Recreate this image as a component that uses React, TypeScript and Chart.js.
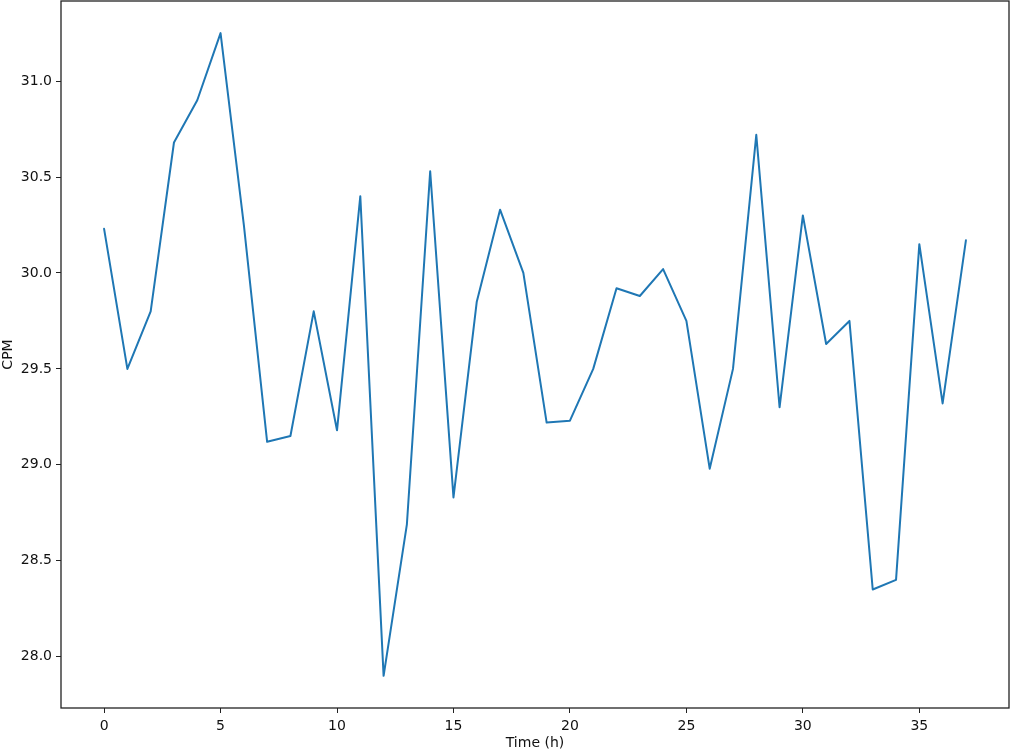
import React, { useEffect, useRef } from "react";
import { Chart, registerables } from "chart.js";

Chart.register(...registerables);

const hours: number[] = [
  0, 1, 2, 3, 4, 5, 6, 7, 8, 9, 10, 11, 12, 13, 14, 15, 16, 17, 18, 19,
  20, 21, 22, 23, 24, 25, 26, 27, 28, 29, 30, 31, 32, 33, 34, 35, 36, 37,
];
const cpm: number[] = [
  30.23, 29.5, 29.8, 30.68, 30.9, 31.25, 30.25, 29.12, 29.15, 29.8,
  29.18, 30.4, 27.9, 28.69, 30.53, 28.83, 29.85, 30.33, 30.0, 29.22,
  29.23, 29.5, 29.92, 29.88, 30.02, 29.75, 28.98, 29.5, 30.72, 29.3,
  30.3, 29.63, 29.75, 28.35, 28.4, 30.15, 29.32, 30.17,
];
const xTicks: number[] = [0, 5, 10, 15, 20, 25, 30, 35];
const yTicks: number[] = [28.0, 28.5, 29.0, 29.5, 30.0, 30.5, 31.0];

const frame = {
  id: "frame",
  afterDraw(chart: any) {
    const { ctx, chartArea: a } = chart;
    ctx.save();
    ctx.strokeStyle = "#222";
    ctx.lineWidth = 1.3;
    ctx.strokeRect(a.left, a.top, a.right - a.left, a.bottom - a.top);
    ctx.restore();
  },
};

export default function App() {
  const ref = useRef<HTMLCanvasElement | null>(null);
  useEffect(() => {
    if (!ref.current) return;
    const font = { family: "DejaVu Sans", size: 14 };
    const chart = new Chart(ref.current, {
      type: "line",
      data: {
        datasets: [
          {
            data: hours.map((h, i) => ({ x: h, y: cpm[i] })),
            borderColor: "#1f77b4",
            borderWidth: 2,
            borderJoinStyle: "round",
            borderCapStyle: "round",
            pointRadius: 0,
            tension: 0,
            fill: false,
          },
        ],
      },
      options: {
        animation: false,
        responsive: false,
        maintainAspectRatio: false,
        layout: { padding: { top: 1, right: 2, left: 0, bottom: 0 } },
        plugins: { legend: { display: false }, tooltip: { enabled: false } },
        scales: {
          x: {
            type: "linear",
            min: -1.85,
            max: 38.85,
            afterBuildTicks: (s: any) => {
              s.ticks = xTicks.map((v) => ({ value: v }));
            },
            afterFit: (s: any) => {
              s.height = 44;
              s.paddingLeft = 0;
              s.paddingRight = 0;
            },
            grid: {
              display: true,
              drawOnChartArea: false,
              drawTicks: true,
              tickLength: 5,
              color: "#222",
            },
            border: { display: false },
            ticks: { color: "#111", font, padding: 5, maxRotation: 0, autoSkip: false },
            title: {
              display: true,
              text: "Time (h)",
              color: "#111",
              font,
              padding: { top: 2, bottom: 0 },
            },
          },
          y: {
            type: "linear",
            min: 27.7325,
            max: 31.4175,
            afterBuildTicks: (s: any) => {
              s.ticks = yTicks.map((v) => ({ value: v }));
            },
            afterFit: (s: any) => {
              s.width = 61;
              s.paddingTop = 0;
              s.paddingBottom = 0;
            },
            grid: {
              display: true,
              drawOnChartArea: false,
              drawTicks: true,
              tickLength: 5,
              color: "#222",
            },
            border: { display: false },
            ticks: {
              color: "#111",
              font,
              padding: 4,
              autoSkip: false,
              callback: (v: any) => Number(v).toFixed(1),
            },
            title: {
              display: true,
              text: "CPM",
              color: "#111",
              font,
              padding: { top: 0, bottom: 0 },
            },
          },
        },
      },
      plugins: [frame],
    });
    return () => chart.destroy();
  }, []);
  return (
    <div style={{ position: "fixed", left: 0, top: 0, width: 1011, height: 752, background: "#fff" }}>
      <canvas ref={ref} width={1011} height={752} style={{ display: "block" }} />
    </div>
  );
}
